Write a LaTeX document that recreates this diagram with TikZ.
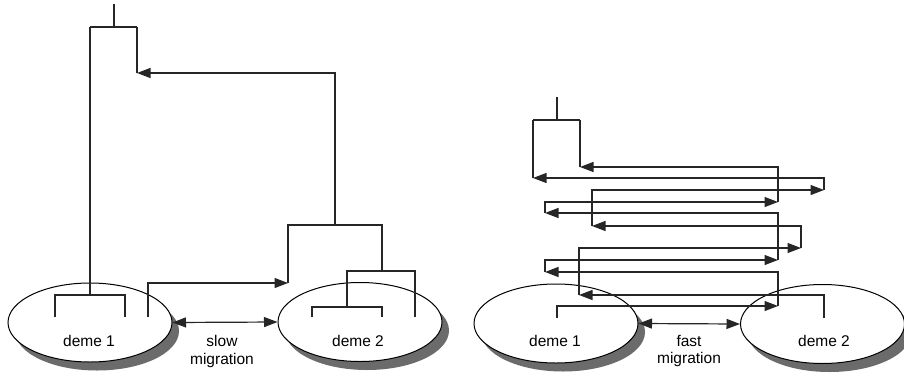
\documentclass[tikz,border=0pt]{standalone}
\usepackage{fontspec}
\setmainfont{Liberation Sans}
\usetikzlibrary{arrows.meta,shapes.geometric}
\begin{document}
\begin{tikzpicture}[x=1pt,y=-1pt,
  ln/.style={line width=1.2pt,black!85},
  tipshape/.tip={Triangle[length=13.5pt,width=10pt]},
  arr/.style={ln,-tipshape},
  darr/.style={ln,tipshape-tipshape},
  deme/.style={draw,ellipse,line width=1pt,fill=white,minimum width=164pt,minimum height=79pt,inner sep=0pt},
  demeshadow/.style={ellipse,fill=black!58,minimum width=164pt,minimum height=79pt,inner sep=0pt},
  lbl/.style={anchor=base,inner sep=0pt,font=\fontsize{15.5}{18}\selectfont}]
\useasboundingbox[fill=white] (0,0) rectangle (904,375);

% ---------- left panel ----------
\node[demeshadow] (L1s) at (97,331) {};
\node[demeshadow] (L2s) at (367,330.5) {};
\node[deme] (L1) at (90,322.5) {};
\node[deme] (L2) at (360,322) {};
\node[lbl] (L1t) at (89,346) {deme 1};
\node[lbl] (L2t) at (358,346) {deme 2};
\node[lbl] (Ls) at (222,346) {slow};
\node[lbl] (Lm) at (222,364.5) {migration};
\draw[darr] (L1.east) -- (L2.west);

% root and top split
\coordinate (Lr) at (114,4);
\coordinate (Lrj) at (114,27);
\coordinate (La) at (90,27);
\coordinate (Lb) at (137,27);
\draw[ln] (Lr) -- (Lrj);
\draw[ln] (La) -- (Lb);
% left lineage into deme 1
\coordinate (Lc) at (90,295);
\draw[ln] (La) -- (Lc);
\draw[ln] (55,317) |- (125,295) -- (125,317);
% migrated lineage
\coordinate (Lm1) at (148,317);
\coordinate (Lm2) at (288,283);
\coordinate (Lm3) at (137,73);
\draw[arr] (Lm1) |- (Lm2);
\draw[ln] (Lm2) |- (382,225) -- (382,271);
\draw[arr] (335,225) |- (Lm3);
\draw[ln] (Lm3) -- (Lb);
% deme 2 subtree
\draw[ln] (347,307) |- (415,271) -- (415,317);
\draw[ln] (312,317) |- (382,307) -- (382,317);

% ---------- right panel ----------
\node[demeshadow] (R1s) at (563,332) {};
\node[demeshadow] (R2s) at (829.5,332.5) {};
\node[deme] (R1) at (556,323.5) {};
\node[deme] (R2) at (822.5,324) {};
\node[lbl] (R1t) at (555,346) {deme 1};
\node[lbl] (R2t) at (824,346) {deme 2};
\node[lbl] (Rf) at (689,346) {fast};
\node[lbl] (Rm) at (689,363.5) {migration};
\draw[darr] (R1.east) -- (R2.west);

% root
\draw[ln] (557,97) -- (557,120);
\draw[ln] (533,120) -- (580,120);
% lineage A (from deme 1 leaf)
\coordinate (A0) at (557,318);
\coordinate (A1) at (778,306);
\coordinate (A2) at (545,272);
\coordinate (A3) at (778,260);
\coordinate (A4) at (545,213);
\coordinate (A5) at (778,202);
\coordinate (A6) at (580,167);
\coordinate (A7) at (580,120);
\draw[arr] (A0) |- (A1);
\draw[arr] (A1) |- (A2);
\draw[arr] (A2) |- (A3);
\draw[arr] (A3) |- (A4);
\draw[arr] (A4) |- (A5);
\draw[arr] (A5) |- (A6);
\draw[ln] (A6) -- (A7);
% lineage B (from deme 2 leaf)
\coordinate (B0) at (824,318);
\coordinate (B1) at (579,295);
\coordinate (B2) at (801,248);
\coordinate (B3) at (592,226);
\coordinate (B4) at (824,190);
\coordinate (B5) at (533,178);
\coordinate (B6) at (533,120);
\draw[arr] (B0) |- (B1);
\draw[arr] (B1) |- (B2);
\draw[arr] (B2) |- (B3);
\draw[arr] (B3) |- (B4);
\draw[arr] (B4) |- (B5);
\draw[ln] (B5) -- (B6);
\end{tikzpicture}
\end{document}
